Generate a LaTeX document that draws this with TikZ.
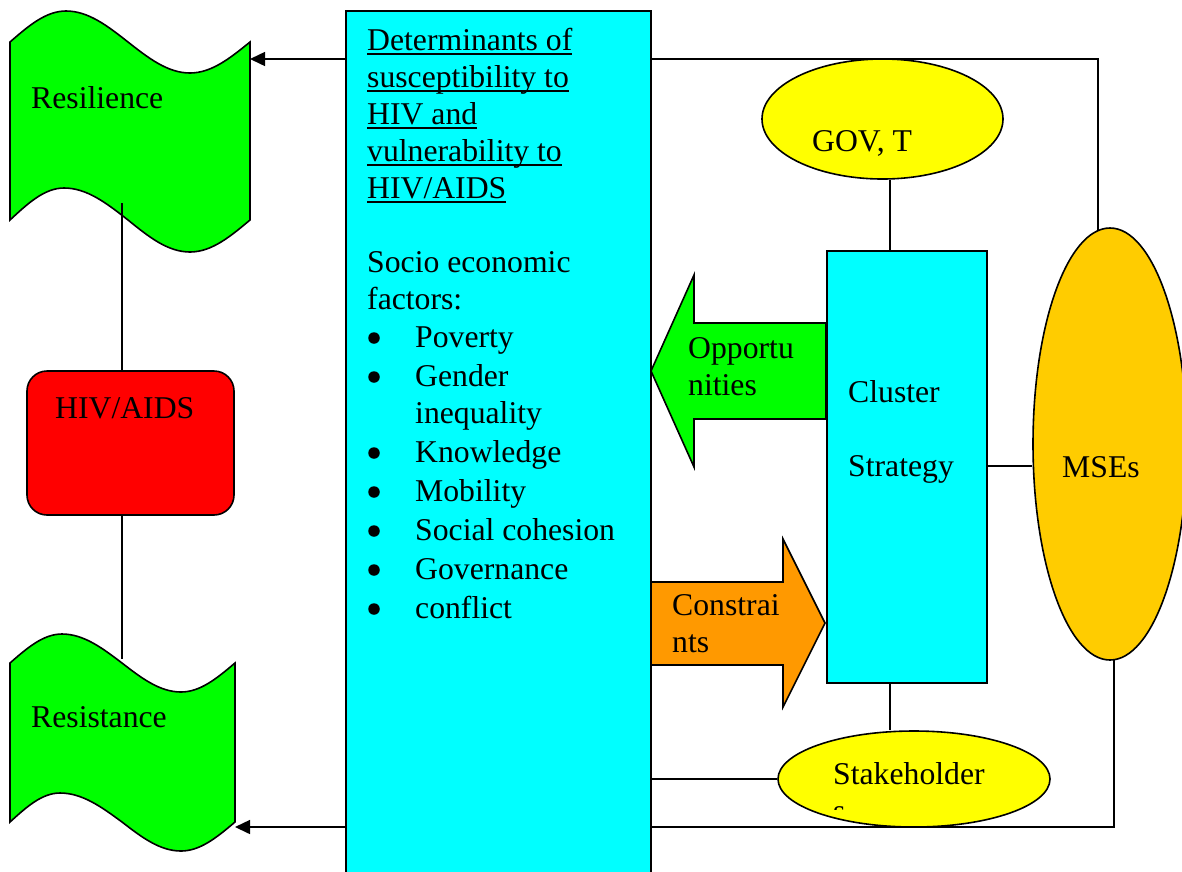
\documentclass[tikz,border=0pt]{standalone}
\usepackage{fontspec}
\setmainfont{Liberation Serif}
\usetikzlibrary{arrows.meta,shapes.geometric}
\definecolor{cyanc}{HTML}{00FFFF}
\definecolor{greenc}{HTML}{00FF00}
\definecolor{redc}{HTML}{FF0000}
\definecolor{yellowc}{HTML}{FFFF00}
\definecolor{orangec}{HTML}{FF9900}
\definecolor{goldc}{HTML}{FFCC00}
\newcommand\bigfont{\fontsize{31.7pt}{37pt}\selectfont}
\newcommand\myul[1]{\setbox0=\hbox{#1}\rlap{\rule[-5pt]{\wd0}{2pt}}\box0}
\tikzset{
  outl/.style={draw=black, line width=1.6pt},
  conn/.style={draw=black, line width=1.5pt},
  arr/.style={conn, -{Triangle[length=15pt,width=14pt]}},
  txt/.style={anchor=base west, inner sep=0pt, font=\bigfont},
  boxnode/.style={outl, rectangle, inner sep=0pt},
  ellnode/.style={outl, ellipse, inner sep=0pt},
  bulletdot/.style={circle, fill=black, inner sep=0pt, minimum size=11.5pt},
}
\begin{document}
\begin{tikzpicture}[x=1pt,y=-1pt]
\clip (0,0) rectangle (1182,871);
\fill[white] (0,0) rectangle (1182,871);

% named connection points
\coordinate (rsR) at (250,59);
\coordinate (rtR) at (235,827);
\coordinate (rsB) at (122,203);
\coordinate (rtT) at (122,659);
\coordinate (mtop) at (1098,260);
\coordinate (mbot) at (1114,620);
\coordinate (gx) at (890,0);

% long connectors (behind shapes)
\draw[arr] (mtop) |- (rsR);
\draw[arr] (mbot) |- (rtR);

% main determinants box
\node[boxnode, fill=cyanc, minimum width=305pt, minimum height=870pt] (det) at (498.5,446) {};

% cluster strategy box
\node[boxnode, fill=cyanc, minimum width=160pt, minimum height=432pt] (cl) at (907,467) {};

% ellipses
\node[ellnode, fill=yellowc, minimum width=241pt, minimum height=120pt] (gov) at (882.5,119) {};
\node[ellnode, fill=yellowc, minimum width=272pt, minimum height=96pt] (stk) at (914,779) {};
\node[ellnode, fill=goldc, minimum width=154pt, minimum height=432pt] (mse) at (1110,444) {};

% HIV/AIDS box
\node[boxnode, fill=redc, rounded corners=20pt, minimum width=207pt, minimum height=144pt] (hiv) at (130.5,443) {};

% wave shapes
\draw[outl, fill=greenc] (10,42) sin (66,11) cos (128,42) sin (190,73) cos (250,42)
  -- (250,220) sin (190,252) cos (128,220) sin (64,188) cos (10,220) -- cycle;
\draw[outl, fill=greenc] (10,663) sin (62,634) cos (122,663) sin (181,692) cos (235,663)
  -- (235,822) sin (181,851) cos (122,822) sin (60,793) cos (10,822) -- cycle;

% block arrows
\draw[outl, fill=greenc] (651,371) -- (694,275) -- (694,323) -- (826,323) -- (826,419)
  -- (694,419) -- (694,467) -- cycle;
\draw[outl, fill=orangec] (651,582) -- (783,582) -- (783,539) -- (825,623) -- (783,707)
  -- (783,665) -- (651,665) -- cycle;

% short connectors
\draw[conn] (rsB) -- (rsB |- hiv.north);
\draw[conn] (rtT |- hiv.south) -- (rtT);
\draw[conn] (gx |- gov.south) -- (gx |- cl.north);
\draw[conn] (gx |- cl.south) -- (gx |- stk.north);
\draw[conn] (cl.east |- 0,466) -- (mse.west |- 0,466);
\draw[conn] (det.east |- stk.west) -- (stk.west);

% texts
\node[txt] (tres) at (31,108) {Resilience};
\node[txt] (tresist) at (31,727) {Resistance};
\node[txt] (thiv) at (55,418) {HIV/AIDS};
\node[txt] (tgov) at (812,151) {GOV, T};
\node[txt] (tcl1) at (848,402) {Cluster};
\node[txt] (tcl2) at (848,476) {Strategy};
\node[txt] (tmse) at (1062,477) {MSEs};
\node[txt] (top1) at (688,358) {Opportu};
\node[txt] (top2) at (688,395) {nities};
\node[txt] (tco1) at (672,615) {Constrai};
\node[txt] (tco2) at (672,652) {nts};
\node[txt] (tstk) at (833,784) {Stakeholder};
\begin{scope}
  \clip (825,795) rectangle (870,809.5);
  \node[txt] (tstk2) at (833,821) {s};
\end{scope}

\node[txt] (d1) at (367,50) {\myul{Determinants of}};
\node[txt] (d2) at (367,87) {\myul{susceptibility to}};
\node[txt] (d3) at (367,124) {\myul{HIV and}};
\node[txt] (d4) at (367,161) {\myul{vulnerability to}};
\node[txt] (d5) at (367,198) {\myul{HIV/AIDS}};
\node[txt] (s1) at (367,272) {Socio economic};
\node[txt] (s2) at (367,309) {factors:};
\foreach \yy/\nm in {347/b1,386/b2,462/b3,501/b4,540/b5,579/b6,618/b7}{
  \node[bulletdot] (\nm) at (374,\yy-9) {};
}
\node[txt] (i1) at (415,347) {Poverty};
\node[txt] (i2) at (415,386) {Gender};
\node[txt] (i2b) at (415,423) {inequality};
\node[txt] (i3) at (415,462) {Knowledge};
\node[txt] (i4) at (415,501) {Mobility};
\node[txt] (i5) at (415,540) {Social cohesion};
\node[txt] (i6) at (415,579) {Governance};
\node[txt] (i7) at (415,618) {conflict};
\end{tikzpicture}
\end{document}
